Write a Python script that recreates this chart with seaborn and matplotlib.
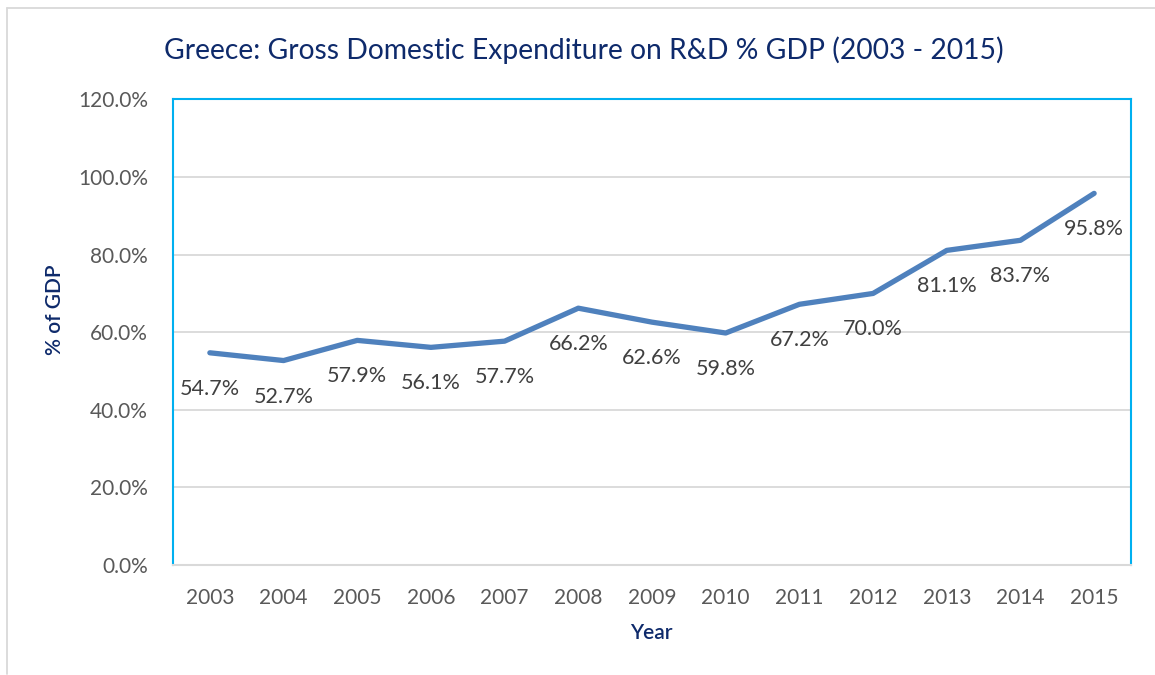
import numpy as np
import pandas as pd
import matplotlib
matplotlib.use("Agg")
import matplotlib.pyplot as plt
import seaborn as sns
from matplotlib.lines import Line2D

# Gross domestic expenditure on R&D, Greece (as shown, % of GDP)
years = ["2003", "2004", "2005", "2006", "2007", "2008", "2009",
         "2010", "2011", "2012", "2013", "2014", "2015"]
values = [54.7, 52.7, 57.9, 56.1, 57.7, 66.2, 62.6,
          59.8, 67.2, 70.0, 81.1, 83.7, 95.8]
y_ticks = [0, 20, 40, 60, 80, 100, 120]

title = "Greece: Gross Domestic Expenditure on R&D % GDP (2003 - 2015)"
x_label = "Year"
y_label = "% of GDP"

navy = "#0E2A6B"
tick_grey = "#595959"
label_grey = "#404040"
line_blue = "#4F81BD"
frame_blue = "#00B0F0"
grid_grey = "#D9D9D9"

sns.set_theme(style="white")
plt.rcParams["font.family"] = ["Lato", "DejaVu Sans"]

df = pd.DataFrame({"year": years, "value": values})

fig = plt.figure(figsize=(11.55, 6.75), dpi=100)
ax = fig.add_axes([0.1498, 0.163, 0.9792 - 0.1498, 0.8526 - 0.163])

sns.lineplot(data=df, x="year", y="value", ax=ax, color=line_blue,
             linewidth=3.8, solid_joinstyle="round", solid_capstyle="round",
             sort=False, zorder=3)

ax.set_xlim(-0.5, len(years) - 0.5)
ax.set_ylim(0, 120)
ax.set_yticks(y_ticks)
ax.set_yticklabels([f"{v:.1f}%" for v in y_ticks])
ax.set_xticks(range(len(years)))
ax.set_xticklabels(years)

for v in y_ticks[1:-1]:
    ax.axhline(v, color=grid_grey, linewidth=1.3, zorder=1)

ax.tick_params(axis="y", length=0, pad=18, labelsize=15, labelcolor=tick_grey)
ax.tick_params(axis="x", length=0, pad=16.5, labelsize=15, labelcolor=tick_grey)

for side in ("left", "top", "right"):
    ax.spines[side].set_color(frame_blue)
    ax.spines[side].set_linewidth(1.5)
ax.spines["bottom"].set_color(grid_grey)
ax.spines["bottom"].set_linewidth(1.5)

# Value labels sit just below each point
for i, v in enumerate(values):
    ax.annotate(f"{v:.1f}%", xy=(i, v), xytext=(0, -36),
                textcoords="offset pixels", ha="center", va="center",
                fontsize=15.5, color=label_grey, zorder=4)

ax.set_xlabel("")
ax.set_ylabel("")
fig.text(0.5056, 0.926, title, ha="center", va="center",
         fontsize=20.3, color=navy)
fig.text(0.5636, 0.062, x_label, ha="center", va="center",
         fontsize=15, color=navy, fontweight="semibold")
fig.text(0.0476, 0.541, y_label, ha="center", va="center", rotation=90,
         fontsize=15, color=navy, fontweight="semibold")

# Light frame around the chart
fig.add_artist(Line2D([7 / 1155, 7 / 1155], [1 - 8 / 675, 1 - 674 / 675],
                      transform=fig.transFigure, color=grid_grey, linewidth=1.3))
fig.add_artist(Line2D([7 / 1155, 1.0], [1 - 8 / 675, 1 - 8 / 675],
                      transform=fig.transFigure, color=grid_grey, linewidth=1.3))

fig.savefig("out.png", dpi=100, facecolor="white")
